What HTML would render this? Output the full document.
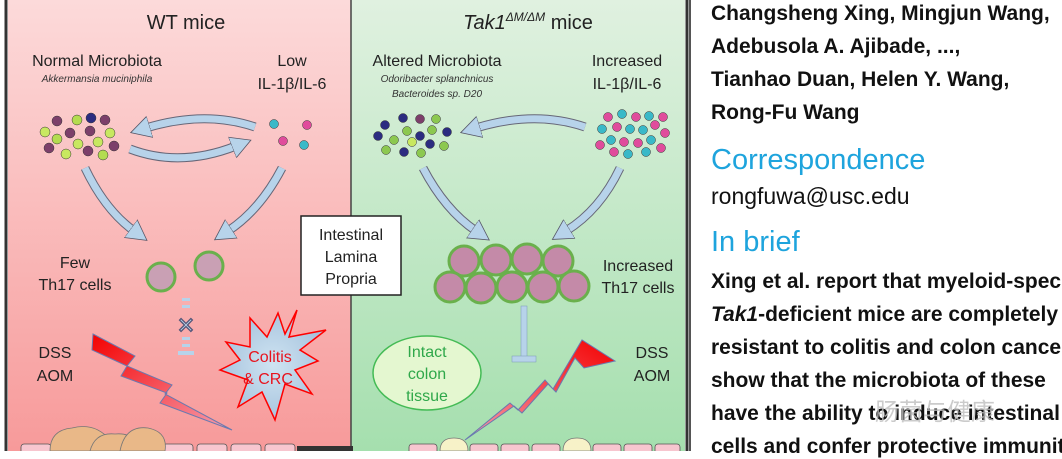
<!DOCTYPE html>
<html><head><meta charset="utf-8"><style>
html,body{margin:0;padding:0;width:1062px;height:451px;overflow:hidden;background:#fff}
.t{position:absolute;left:711px;font-family:"Liberation Sans",sans-serif;color:#111;font-size:21px;font-weight:bold;white-space:nowrap}
.b{color:#1ea4dd;font-size:29px;font-weight:normal}
</style></head><body>
<svg width="692" height="451" style="position:absolute;left:0;top:0" font-family="Liberation Sans, sans-serif">
<defs>
<linearGradient id="r" x1="0" y1="0" x2="0" y2="1"><stop offset="0" stop-color="#fcdada"/><stop offset="1" stop-color="#f79a9a"/></linearGradient>
<linearGradient id="g" x1="0" y1="0" x2="0" y2="1"><stop offset="0" stop-color="#e0f1e0"/><stop offset="1" stop-color="#a5dfae"/></linearGradient>
<linearGradient id="lr" x1="0" y1="0" x2="1" y2="1"><stop offset="0" stop-color="#f40000"/><stop offset="1" stop-color="#f7a0b0"/></linearGradient>
<linearGradient id="lg" x1="1" y1="0" x2="0" y2="1"><stop offset="0" stop-color="#f40000"/><stop offset="1" stop-color="#f7a0b0"/></linearGradient>
<radialGradient id="st"><stop offset="0" stop-color="#cfe4f2"/><stop offset="1" stop-color="#a8c4de"/></radialGradient>
<marker id="ah" markerUnits="userSpaceOnUse" markerWidth="24" markerHeight="24" refX="4" refY="12" orient="auto"><path d="M0,1L20,12L0,23z" fill="#b7d3ea" stroke="#556" stroke-width="0.8"/></marker>
</defs>
<rect x="0" y="0" width="692" height="451" fill="#fff"/>
<rect x="8" y="0" width="343" height="451" fill="url(#r)"/>
<rect x="351" y="0" width="334" height="451" fill="url(#g)"/>
<rect x="6" y="-2" width="681" height="460" fill="none" stroke="#333" stroke-width="3"/>
<line x1="351" y1="0" x2="351" y2="451" stroke="#444" stroke-width="1.5"/>
<line x1="690" y1="0" x2="690" y2="451" stroke="#555" stroke-width="2"/>

<text x="186" y="29" font-size="20" text-anchor="middle" fill="#222">WT mice</text>
<text x="97" y="66" font-size="16" text-anchor="middle" fill="#222">Normal Microbiota</text>
<text x="97" y="82" font-size="10" font-style="italic" text-anchor="middle" fill="#333">Akkermansia muciniphila</text>
<text x="292" y="66" font-size="16" text-anchor="middle" fill="#222">Low</text>
<text x="292" y="89" font-size="16" text-anchor="middle" fill="#222">IL-1β/IL-6</text>
<g stroke="#333" stroke-width="0.5">
<circle cx="57" cy="121" r="5" fill="#7c3f6a"/><circle cx="77" cy="120" r="5" fill="#b4dc50"/><circle cx="91" cy="118" r="5" fill="#2c2c80"/><circle cx="105" cy="120" r="5" fill="#7c3f6a"/>
<circle cx="45" cy="132" r="5" fill="#c8e860"/><circle cx="57" cy="139" r="5" fill="#b4dc50"/><circle cx="70" cy="133" r="5" fill="#7c3f6a"/><circle cx="90" cy="131" r="5" fill="#7c3f6a"/><circle cx="110" cy="133" r="5" fill="#c8e860"/>
<circle cx="49" cy="148" r="5" fill="#7c3f6a"/><circle cx="66" cy="154" r="5" fill="#c8e860"/><circle cx="78" cy="144" r="5" fill="#c8e860"/><circle cx="88" cy="151" r="5" fill="#7c3f6a"/><circle cx="98" cy="142" r="5" fill="#c8e860"/><circle cx="103" cy="155" r="5" fill="#b4dc50"/><circle cx="114" cy="146" r="5" fill="#7c3f6a"/>
<circle cx="274" cy="124" r="4.5" fill="#3ab9c8"/><circle cx="307" cy="125" r="4.5" fill="#e04c9c"/><circle cx="283" cy="141" r="4.5" fill="#e04c9c"/><circle cx="304" cy="145" r="4.5" fill="#3ab9c8"/>
</g>
<g id="arr" fill="none">
<g stroke="#667" stroke-width="9">
<path d="M255,127 Q205,110 146,128"/><path d="M130,149 Q180,168 236,146"/><path d="M85,168 Q105,210 134,231"/><path d="M282,168 Q260,210 228,231"/>
<path d="M460,127 Q510,110 569,128" transform="translate(1045,0) scale(-1,1)"/><path d="M110,147 Q160,166 216,143" transform="translate(1045,0) scale(-1,1)"/>
<path d="M423,168 Q445,210 476,231"/><path d="M620,168 Q600,210 566,231"/>
</g>
<g stroke="#b7d3ea" stroke-width="7" marker-end="url(#ah)">
<path d="M255,127 Q205,110 146,128"/><path d="M130,149 Q180,168 236,146"/><path d="M85,168 Q105,210 134,231"/><path d="M282,168 Q260,210 228,231"/>
<path d="M460,127 Q510,110 569,128" transform="translate(1045,0) scale(-1,1)"/><path d="M110,147 Q160,166 216,143" transform="translate(1045,0) scale(-1,1)"/>
<path d="M423,168 Q445,210 476,231"/><path d="M620,168 Q600,210 566,231"/>
</g>
</g>
<text x="75" y="268" font-size="16" text-anchor="middle" fill="#222">Few</text>
<text x="75" y="290" font-size="16" text-anchor="middle" fill="#222">Th17 cells</text>
<circle cx="161" cy="277" r="14" fill="#c9a0b4" stroke="#6ab04c" stroke-width="3"/>
<circle cx="209" cy="266" r="14" fill="#c9a0b4" stroke="#6ab04c" stroke-width="3"/>
<g fill="#b7d3ea"><rect x="182" y="298" width="8" height="3"/><rect x="182" y="305" width="8" height="3"/><rect x="182" y="337" width="8" height="3"/><rect x="182" y="344" width="8" height="3"/><rect x="178" y="351" width="16" height="4"/></g>
<text x="186" y="333" font-size="22" font-weight="bold" text-anchor="middle" fill="#b7d3ea" stroke="#557" stroke-width="0.5">✕</text>
<text x="55" y="358" font-size="16" text-anchor="middle" fill="#222">DSS</text>
<text x="55" y="381" font-size="16" text-anchor="middle" fill="#222">AOM</text>
<polygon points="93,334 135,356 127,366 172,385 165,394 232,430 160,403 167,393 121,376 127,366 92,350" fill="url(#lr)" stroke="#6a7ab0" stroke-width="1"/>
<polygon points="297,310 289,337 326,330 300,350 318,361 295,370 312,394 285,384 275,420 262,392 238,407 248,380 220,370 240,360 226,342 250,347 250,318 267,337 278,313 285,334" fill="url(#st)" stroke="#f00" stroke-width="1.5"/>
<text x="270" y="362" font-size="16" text-anchor="middle" fill="#e8141e">Colitis</text>
<text x="268" y="384" font-size="16" text-anchor="middle" fill="#e8141e">&amp; CRC</text>
<g fill="#f7c6cf" stroke="#555" stroke-width="0.8">
<rect x="21" y="444" width="30" height="12" rx="3"/><rect x="163" y="444" width="30" height="12" rx="3"/><rect x="197" y="444" width="30" height="12" rx="3"/><rect x="231" y="444" width="30" height="12" rx="3"/><rect x="265" y="444" width="30" height="12" rx="3"/>
</g>
<g fill="#e9b888" stroke="#777" stroke-width="0.8">
<path d="M50,451 Q50,430 72,428 Q95,422 110,440 L110,451z"/><path d="M90,451 Q95,432 115,434 Q135,432 140,451z"/><path d="M120,451 Q125,425 148,428 Q168,432 165,451z"/>
</g>
<rect x="297" y="446" width="56" height="6" fill="#333"/>
<rect x="301" y="216" width="100" height="79" fill="#fff" stroke="#222" stroke-width="1.5"/>
<text x="351" y="240" font-size="16" text-anchor="middle" fill="#222">Intestinal</text>
<text x="351" y="262" font-size="16" text-anchor="middle" fill="#222">Lamina</text>
<text x="351" y="284" font-size="16" text-anchor="middle" fill="#222">Propria</text>

<text x="528" y="29" font-size="20" text-anchor="middle" fill="#222"><tspan font-style="italic">Tak1</tspan><tspan font-size="12" font-style="italic" dy="-8">ΔM/ΔM</tspan><tspan dy="8"> mice</tspan></text>
<text x="437" y="66" font-size="16" text-anchor="middle" fill="#222">Altered Microbiota</text>
<text x="437" y="82" font-size="10" font-style="italic" text-anchor="middle" fill="#333">Odoribacter splanchnicus</text>
<text x="437" y="97" font-size="10" font-style="italic" text-anchor="middle" fill="#333">Bacteroides sp. D20</text>
<text x="627" y="66" font-size="16" text-anchor="middle" fill="#222">Increased</text>
<text x="627" y="89" font-size="16" text-anchor="middle" fill="#222">IL-1β/IL-6</text>
<g stroke="#333" stroke-width="0.5">
<circle cx="403" cy="118" r="4.5" fill="#2c2c80"/><circle cx="420" cy="119" r="4.5" fill="#7c3f6a"/><circle cx="436" cy="119" r="4.5" fill="#8cc850"/>
<circle cx="385" cy="125" r="4.5" fill="#2c2c80"/><circle cx="407" cy="131" r="4.5" fill="#8cc850"/><circle cx="420" cy="136" r="4.5" fill="#2c2c80"/><circle cx="432" cy="130" r="4.5" fill="#8cc850"/><circle cx="447" cy="132" r="4.5" fill="#2c2c80"/>
<circle cx="378" cy="136" r="4.5" fill="#2c2c80"/><circle cx="394" cy="140" r="4.5" fill="#8cc850"/><circle cx="412" cy="142" r="4.5" fill="#c8e860"/><circle cx="430" cy="144" r="4.5" fill="#2c2c80"/><circle cx="444" cy="146" r="4.5" fill="#8cc850"/>
<circle cx="386" cy="150" r="4.5" fill="#8cc850"/><circle cx="404" cy="152" r="4.5" fill="#2c2c80"/><circle cx="421" cy="153" r="4.5" fill="#8cc850"/>
<circle cx="608" cy="117" r="4.5" fill="#e04c9c"/><circle cx="622" cy="114" r="4.5" fill="#3ab9c8"/><circle cx="636" cy="117" r="4.5" fill="#e04c9c"/><circle cx="649" cy="116" r="4.5" fill="#3ab9c8"/><circle cx="663" cy="117" r="4.5" fill="#e04c9c"/>
<circle cx="602" cy="129" r="4.5" fill="#3ab9c8"/><circle cx="617" cy="127" r="4.5" fill="#e04c9c"/><circle cx="630" cy="129" r="4.5" fill="#3ab9c8"/><circle cx="643" cy="130" r="4.5" fill="#3ab9c8"/><circle cx="655" cy="125" r="4.5" fill="#e04c9c"/><circle cx="665" cy="133" r="4.5" fill="#e04c9c"/>
<circle cx="611" cy="140" r="4.5" fill="#3ab9c8"/><circle cx="624" cy="142" r="4.5" fill="#e04c9c"/><circle cx="638" cy="143" r="4.5" fill="#e04c9c"/><circle cx="651" cy="140" r="4.5" fill="#3ab9c8"/>
<circle cx="600" cy="145" r="4.5" fill="#e04c9c"/><circle cx="614" cy="152" r="4.5" fill="#e04c9c"/><circle cx="628" cy="154" r="4.5" fill="#3ab9c8"/><circle cx="646" cy="152" r="4.5" fill="#3ab9c8"/><circle cx="661" cy="148" r="4.5" fill="#e04c9c"/>
</g>
<g fill="#c48aa8" stroke="#6ab04c" stroke-width="3">
<circle cx="464" cy="261" r="15"/><circle cx="496" cy="260" r="15"/><circle cx="527" cy="259" r="15"/><circle cx="558" cy="261" r="15"/>
<circle cx="450" cy="287" r="15"/><circle cx="481" cy="288" r="15"/><circle cx="512" cy="287" r="15"/><circle cx="543" cy="287" r="15"/><circle cx="574" cy="286" r="15"/>
</g>
<text x="638" y="271" font-size="16" text-anchor="middle" fill="#222">Increased</text>
<text x="638" y="293" font-size="16" text-anchor="middle" fill="#222">Th17 cells</text>
<rect x="521" y="306" width="6" height="52" fill="#b7d3ea" stroke="#7a9ab5" stroke-width="0.5"/>
<rect x="512" y="356" width="24" height="6" fill="#b7d3ea" stroke="#7a9ab5" stroke-width="0.5"/>
<ellipse cx="427" cy="373" rx="54" ry="37" fill="#e4f7d0" stroke="#44bb55" stroke-width="1.5"/>
<text x="427" y="357" font-size="16" text-anchor="middle" fill="#2fa84a">Intact</text>
<text x="427" y="379" font-size="16" text-anchor="middle" fill="#2fa84a">colon</text>
<text x="427" y="401" font-size="16" text-anchor="middle" fill="#2fa84a">tissue</text>
<polygon points="465,440 510,403 518,410 545,380 553,389 582,340 615,361 584,368 575,358 556,392 548,384 522,413 514,406" fill="url(#lg)" stroke="#6a7ab0" stroke-width="1"/>
<text x="652" y="358" font-size="16" text-anchor="middle" fill="#222">DSS</text>
<text x="652" y="381" font-size="16" text-anchor="middle" fill="#222">AOM</text>
<g fill="#f7c6cf" stroke="#555" stroke-width="0.8">
<rect x="409" y="444" width="28" height="12" rx="3"/><rect x="470" y="444" width="28" height="12" rx="3"/><rect x="501" y="444" width="28" height="12" rx="3"/><rect x="532" y="444" width="28" height="12" rx="3"/><rect x="593" y="444" width="28" height="12" rx="3"/><rect x="624" y="444" width="28" height="12" rx="3"/><rect x="655" y="444" width="25" height="12" rx="3"/>
</g>
<g fill="#f7f2c8" stroke="#777" stroke-width="0.8"><path d="M440,451 Q440,438 454,438 Q468,438 468,451z"/><path d="M563,451 Q563,438 577,438 Q591,438 591,451z"/></g>
</svg>
<div class="t" style="top:2px">Changsheng Xing, Mingjun Wang,</div>
<div class="t" style="top:35px">Adebusola A. Ajibade, ...,</div>
<div class="t" style="top:68px">Tianhao Duan, Helen Y. Wang,</div>
<div class="t" style="top:101px">Rong-Fu Wang</div>
<div class="t b" style="top:144px">Correspondence</div>
<div class="t" style="top:183px;font-weight:normal;font-size:23px">rongfuwa@usc.edu</div>
<div class="t b" style="top:226px">In brief</div>
<div class="t" style="top:270px">Xing et al. report that myeloid-specific</div>
<div class="t" style="top:303px"><i>Tak1</i>-deficient mice are completely</div>
<div class="t" style="top:336px">resistant to colitis and colon cancer</div>
<div class="t" style="top:369px">show that the microbiota of these</div>
<div class="t" style="top:402px">have the ability to induce intestinal</div>
<div class="t" style="top:435px">cells and confer protective immunity</div>
<div style="position:absolute;left:875px;top:392px;font-family:'Noto Sans CJK SC',sans-serif;font-size:24px;color:rgba(190,190,190,0.8)">肠菌与健康</div>
</body></html>
